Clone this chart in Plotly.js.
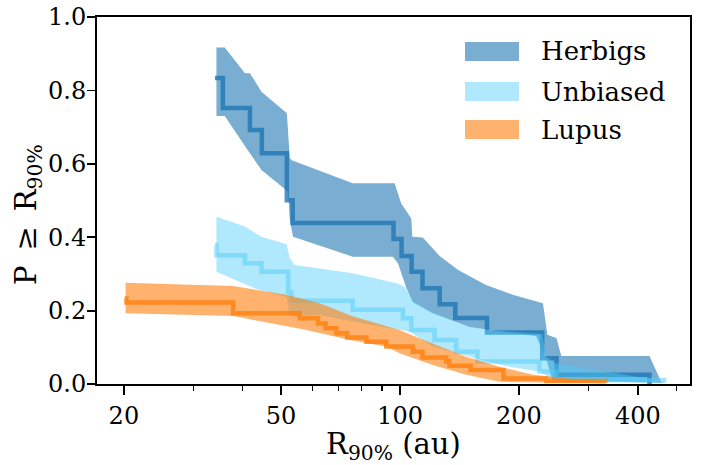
<!DOCTYPE html>
<html>
<head>
<meta charset="utf-8">
<script src="https://cdn.plot.ly/plotly-3.0.1.min.js"></script>
<style>html,body{margin:0;padding:0;background:#fff;}</style>
</head>
<body>
<div id="chart" style="width:719px;height:465px;"></div>
<script>
// ---- Data ----
// Herbigs: cumulative step line
const herbX = [34.0, 35.6, 41.7, 44.7, 51.7, 53.5, 96.3, 100.9, 107, 114, 126, 138, 166, 229, 249, 428];
const herbY = [0.834, 0.752, 0.692, 0.629, 0.501, 0.439, 0.395, 0.349, 0.306, 0.261, 0.217, 0.180, 0.140, 0.070, 0.025, 0.0];
// Herbigs: confidence band
const herbUpX = [34.3, 36.0, 40.5, 41.7, 44.6, 51.7, 52.6, 53.2, 75.9, 96.9, 100.7, 106.8, 107.4, 114.2, 126, 140, 165, 193, 230, 236, 249, 256, 428, 459];
const herbUpY = [0.917, 0.917, 0.847, 0.847, 0.796, 0.738, 0.616, 0.610, 0.547, 0.547, 0.492, 0.451, 0.401, 0.399, 0.349, 0.311, 0.270, 0.243, 0.220, 0.134, 0.125, 0.076, 0.076, 0.004];
const herbLoX = [34.3, 36.0, 40.9, 44.6, 52.1, 52.6, 53.6, 75.9, 95.9, 98.8, 103.7, 107.8, 120.9, 150, 168.5, 221, 235, 243, 472];
const herbLoY = [0.730, 0.730, 0.642, 0.583, 0.524, 0.447, 0.401, 0.347, 0.347, 0.329, 0.262, 0.223, 0.193, 0.155, 0.147, 0.131, 0.065, 0.011, 0.003];

// Unbiased
const unbX = [34.0, 34.3, 40.5, 44.6, 52.1, 53.1, 75.9, 101.7, 106.8, 122.3, 138.7, 157, 225.4, 248.4, 472];
const unbY = [0.379, 0.351, 0.329, 0.306, 0.251, 0.227, 0.202, 0.179, 0.147, 0.120, 0.088, 0.061, 0.034, 0.011, 0.011];
const unbUpX = [34.3, 40.5, 44.6, 51.6, 52.6, 54.1, 75.9, 98.8, 102.7, 107.8, 120.9, 141.4, 165, 229, 235, 246, 472];
const unbUpY = [0.456, 0.429, 0.401, 0.381, 0.343, 0.324, 0.302, 0.274, 0.264, 0.229, 0.197, 0.165, 0.147, 0.136, 0.074, 0.057, 0.006];
const unbLoX = [34.3, 43.3, 51.6, 52.6, 62.6, 80.5, 105.7, 120.9, 161.7, 189.2, 225.4, 248.4, 472];
const unbLoY = [0.306, 0.259, 0.237, 0.185, 0.188, 0.165, 0.143, 0.102, 0.065, 0.047, 0.034, 0.006, 0.004];

// Lupus
const lupX = [20.1, 20.3, 37.8, 55.7, 62.0, 64.8, 69.0, 73.5, 82.2, 92.3, 107.8, 114, 131, 133.4, 150.8, 182.7, 234.4, 332];
const lupY = [0.233, 0.222, 0.193, 0.179, 0.165, 0.152, 0.138, 0.127, 0.115, 0.102, 0.088, 0.072, 0.061, 0.050, 0.038, 0.015, 0.008, 0.004];
const lupUpX = [20.2, 37.8, 51.6, 62.6, 75.5, 99.7, 112, 120.9, 147, 178.5, 216.8, 290, 332];
const lupUpY = [0.276, 0.267, 0.243, 0.220, 0.185, 0.147, 0.125, 0.111, 0.074, 0.047, 0.025, 0.011, 0.006];
const lupLoX = [20.2, 37.8, 58, 74.6, 92.3, 99.7, 121, 147, 178.5, 332];
const lupLoY = [0.193, 0.185, 0.147, 0.120, 0.102, 0.084, 0.052, 0.025, 0.006, 0.002];

// Axis ticks
const xTickVals = [20, 50, 100, 200, 400];
const xTickText = ['20', '50', '100', '200', '400'];
const xMinorVals = [30, 40, 60, 70, 80, 90, 300, 500];
const yTickVals = [0, 0.2, 0.4, 0.6, 0.8, 1.0];
const yTickText = ['0.0', '0.2', '0.4', '0.6', '0.8', '1.0'];

const seriesNames = ['Herbigs', 'Unbiased', 'Lupus'];
const xTitle = 'R<sub>90%</sub> (au)';
const yTitle = 'P\u2009 ≥ \u2009R<sub>90%</sub>';

// ---- Styles ----
const FONT = 'DejaVu Serif, serif';
const bandColors = ['rgba(31,119,180,0.6)', 'rgba(80,205,250,0.45)', 'rgba(255,127,14,0.6)'];
const lineColors = ['rgba(31,119,180,0.8)', 'rgba(80,205,250,0.5)', 'rgba(255,127,14,0.8)'];

function band(upX, upY, loX, loY, color) {
  return {
    x: upX.concat(loX.slice().reverse()),
    y: upY.concat(loY.slice().reverse()),
    type: 'scatter', mode: 'lines', fill: 'toself',
    fillcolor: color, line: {width: 0, color: color},
    hoverinfo: 'skip', showlegend: false
  };
}
function step(x, y, color) {
  return {
    x: x, y: y, type: 'scatter', mode: 'lines',
    line: {shape: 'hv', width: 4.5, color: color},
    hoverinfo: 'skip', showlegend: false
  };
}

const traces = [
  band(herbUpX, herbUpY, herbLoX, herbLoY, bandColors[0]),
  step(herbX, herbY, lineColors[0]),
  band(unbUpX, unbUpY, unbLoX, unbLoY, bandColors[1]),
  step(unbX, unbY, lineColors[1]),
  band(lupUpX, lupUpY, lupLoX, lupLoY, bandColors[2]),
  step(lupX, lupY, lineColors[2])
];

// Custom legend (patches + text), paper coordinates
const legX0 = 0.6206, legX1 = 0.7116, legTextX = 0.745;
const legRows = [[0.8801, 0.9319], [0.7711, 0.8229], [0.6676, 0.7193]];
const shapes = [];
const annotations = [];
legRows.forEach((r, i) => {
  shapes.push({type: 'rect', xref: 'paper', yref: 'paper', x0: legX0, x1: legX1, y0: r[0], y1: r[1],
               fillcolor: bandColors[i], line: {width: 0}});
  annotations.push({xref: 'paper', yref: 'paper', x: legTextX, y: (r[0] + r[1]) / 2,
                    xanchor: 'left', yanchor: 'middle', showarrow: false, text: seriesNames[i],
                    font: {family: FONT, size: 26, color: 'black'}});
});
// y-axis title as rotated annotation
annotations.push({xref: 'paper', yref: 'paper', x: -0.1164, y: 0.463, xanchor: 'center', yanchor: 'middle',
                  textangle: -90, showarrow: false, text: yTitle,
                  font: {family: FONT, size: 29, color: 'black'}});

const layout = {
  width: 719, height: 465,
  margin: {l: 97, r: 29, t: 17, b: 81, pad: 0},
  paper_bgcolor: 'white', plot_bgcolor: 'white',
  showlegend: false,
  font: {family: FONT, color: 'black'},
  xaxis: {
    type: 'log', range: [Math.log10(17.1), Math.log10(542)],
    showgrid: false, zeroline: false,
    showline: true, linecolor: 'black', linewidth: 2, mirror: true,
    ticks: 'outside', ticklen: 9, tickwidth: 1.8, tickcolor: 'black',
    tickmode: 'array', tickvals: xTickVals, ticktext: xTickText,
    tickfont: {family: FONT, size: 24, color: 'black'},
    minor: {ticks: 'outside', ticklen: 5, tickwidth: 1.3, tickcolor: 'black',
            tickmode: 'array', tickvals: xMinorVals, showgrid: false},
    title: {text: xTitle, font: {family: FONT, size: 29, color: 'black'}, standoff: 2}
  },
  yaxis: {
    range: [0, 1],
    showgrid: false, zeroline: false,
    showline: true, linecolor: 'black', linewidth: 2, mirror: true,
    ticks: 'outside', ticklen: 8, tickwidth: 1.8, tickcolor: 'black',
    ticklabelstandoff: -4,
    tickmode: 'array', tickvals: yTickVals, ticktext: yTickText,
    tickfont: {family: FONT, size: 24, color: 'black'}
  },
  shapes: shapes,
  annotations: annotations
};

Plotly.newPlot('chart', traces, layout, {displayModeBar: false, staticPlot: true});
</script>
</body>
</html>
